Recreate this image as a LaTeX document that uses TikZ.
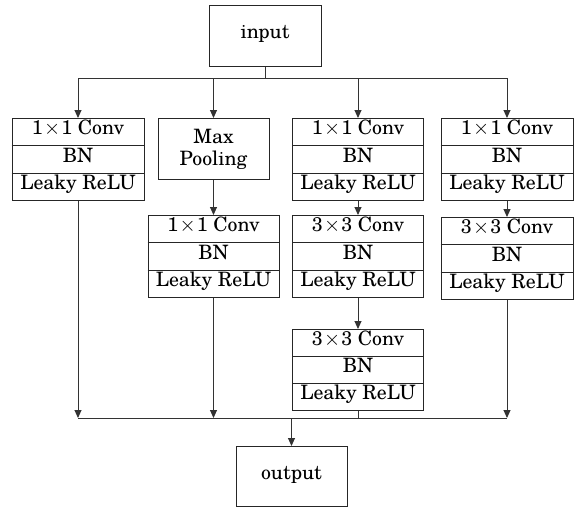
\documentclass[tikz,border=0pt]{standalone}
\usepackage{fontspec}
\newfontfamily\lbfont{TeX Gyre Schola}
\newcommand\bigtimes{\kern1.2pt\raisebox{-0.3pt}{$\times$}\kern1.2pt}
\usetikzlibrary{arrows.meta,calc}
\tikzset{
  blk/.style={draw=black!85, line width=1pt, inner sep=0pt, fill=white},
  lbl/.style={inner sep=0pt, text height=0.72em, text depth=0.2em, font=\lbfont\fontsize{19.8}{23}\selectfont},
  lbltwo/.style={inner sep=0pt, align=center, font=\lbfont\fontsize{19.8}{22}\selectfont},
  conn/.style={draw=black!80, line width=1pt},
  arr/.style={conn, -{Triangle[length=8pt,width=7pt]}},
  divider/.style={draw=black!85, line width=1pt}
}
\newcommand\tribox[6]{% name, cx, ytop, width, height, first line
  \node[blk, minimum width=#4pt, minimum height=#5pt, anchor=north] (#1) at (#2,#3) {};
  \draw[divider] ($(#1.north west)!1/3!(#1.south west)$) -- ($(#1.north east)!1/3!(#1.south east)$);
  \draw[divider] ($(#1.north west)!2/3!(#1.south west)$) -- ($(#1.north east)!2/3!(#1.south east)$);
  \node[lbl] (#1-a) at ($(#1.north)!1/6!(#1.south)$) {#6};
  \node[lbl] (#1-b) at ($(#1.north)!1/2!(#1.south)$) {BN};
  \node[lbl] (#1-c) at ($(#1.north)!5/6!(#1.south)$) {Leaky ReLU};
}
\begin{document}
\begin{tikzpicture}[x=1pt,y=-1pt]
\useasboundingbox (0,0) rectangle (582,507);
% input / output
\node[blk, minimum width=112pt, minimum height=61pt, anchor=north] (in) at (265,5) {};
\node[lbl] (intext) at (in.center) {input};
\node[blk, minimum width=111pt, minimum height=60pt, anchor=north] (out) at (291.5,446) {};
\node[lbl] (outtext) at (out.center) {output};
% boxes
\tribox{A}{78}{118}{132}{82}{1\bigtimes1 Conv}
\node[blk, minimum width=111pt, minimum height=61pt, anchor=north] (P) at (213.5,118) {};
\node[lbltwo] (Ptext) at (P.center) {Max\\Pooling};
\tribox{B}{213.5}{215}{131}{82}{1\bigtimes1 Conv}
\tribox{C1}{358}{118}{131}{82}{1\bigtimes1 Conv}
\tribox{C2}{358}{215}{131}{82}{3\bigtimes3 Conv}
\tribox{C3}{358}{329}{131}{81}{3\bigtimes3 Conv}
\tribox{D1}{507}{118}{132}{82}{1\bigtimes1 Conv}
\tribox{D2}{507}{217}{132}{82}{3\bigtimes3 Conv}
% split / merge lines
\coordinate (top) at (0,78);
\coordinate (bot) at (0,418);
\draw[conn] (in.south) -- (in.south |- top);
\draw[conn] (A.north |- top) -- (D1.north |- top);
\draw[arr] (A.north |- top) -- (A.north);
\draw[arr] (P.north |- top) -- (P.north);
\draw[arr] (C1.north |- top) -- (C1.north);
\draw[arr] (D1.north |- top) -- (D1.north);
\draw[arr] (P.south) -- (B.north);
\draw[arr] (C1.south) -- (C2.north);
\draw[arr] (C2.south) -- (C3.north);
\draw[arr] (D1.south) -- (D2.north);
\draw[arr] (A.south) -- (A.south |- bot);
\draw[arr] (B.south) -- (B.south |- bot);
\draw[conn] (C3.south) -- (C3.south |- bot);
\draw[arr] (D2.south) -- (D2.south |- bot);
\draw[conn] (A.south |- bot) -- (D2.south |- bot);
\draw[arr] (out.north |- bot) -- (out.north);
\end{tikzpicture}
\end{document}
